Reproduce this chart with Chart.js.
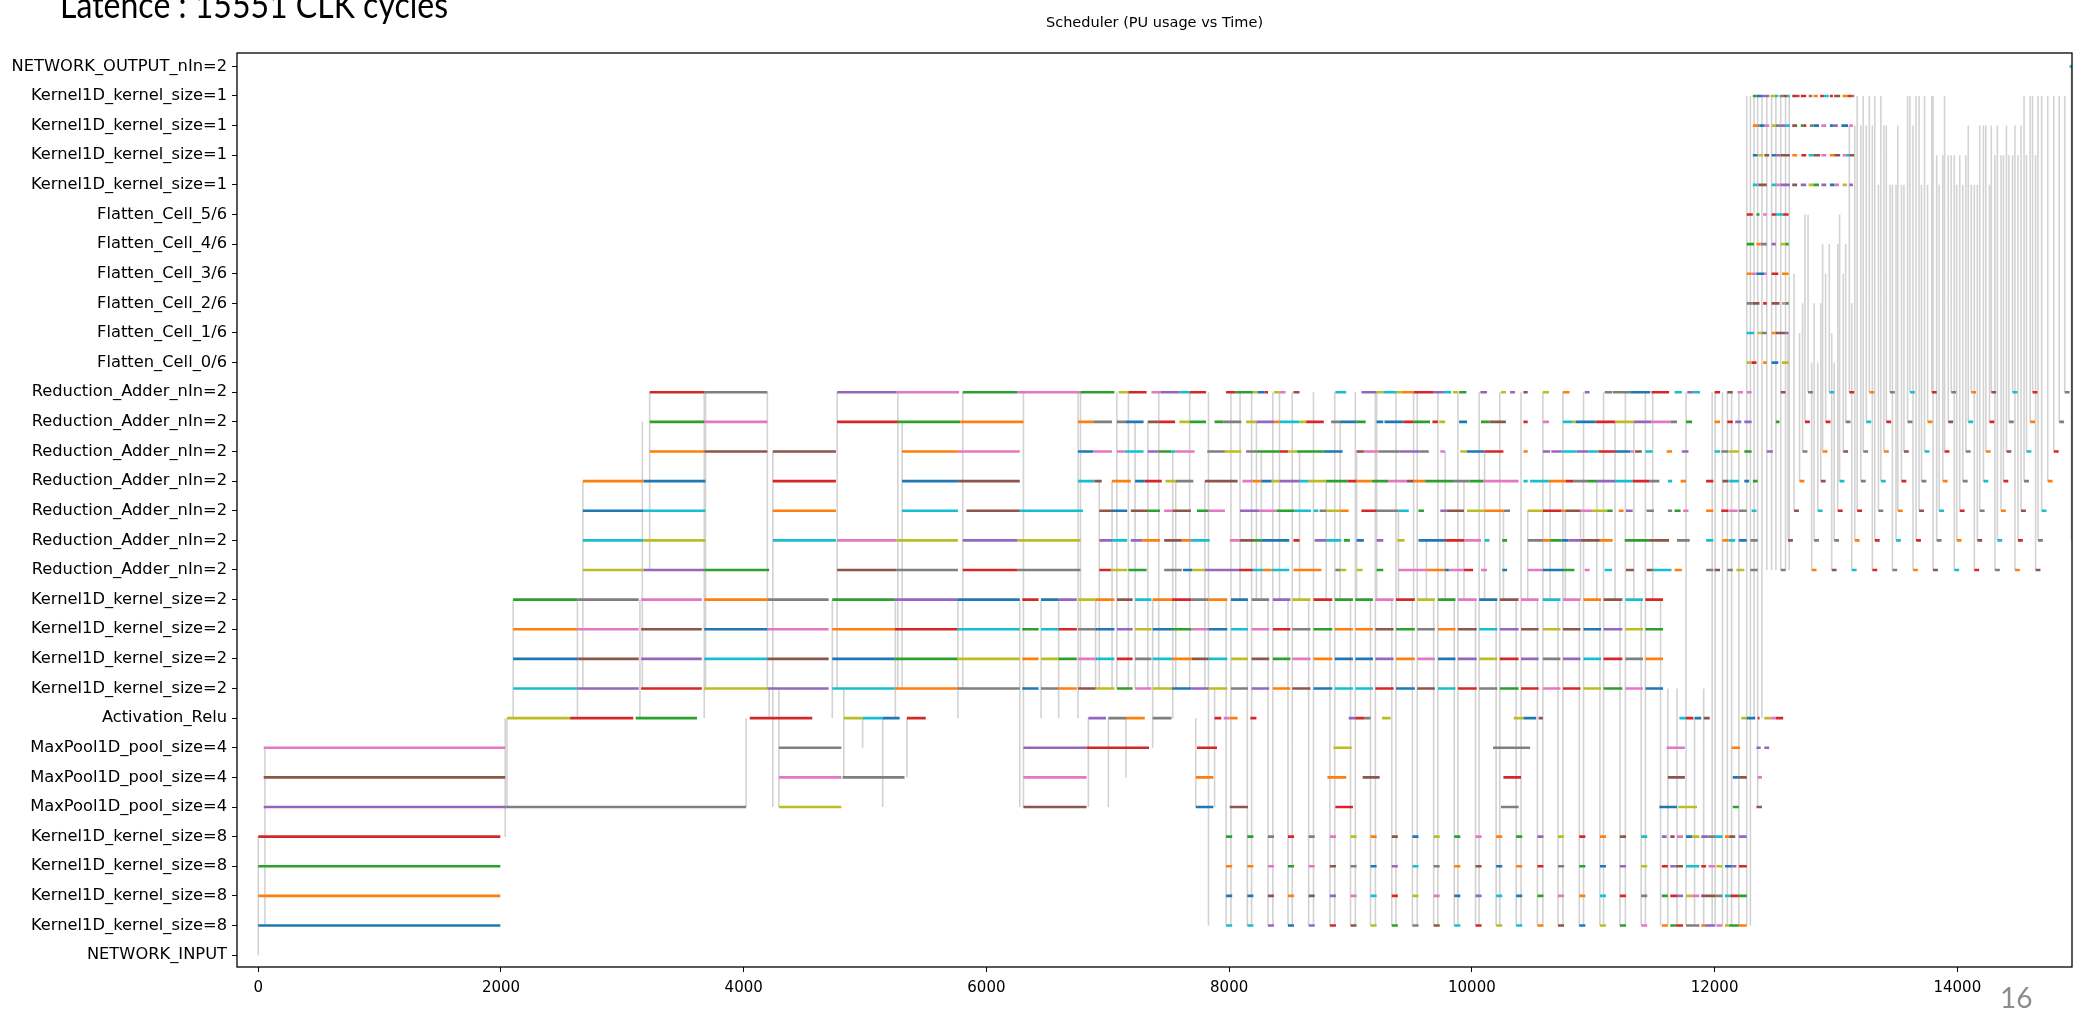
<!DOCTYPE html>
<html>
<head>
<meta charset="utf-8">
<script src="https://cdn.jsdelivr.net/npm/chart.js@4.4.1/dist/chart.umd.min.js"></script>
<style>
  html, body { margin: 0; padding: 0; background: #fff; overflow: hidden; }
  #wrap { position: relative; width: 2098px; height: 1011px; }
  #latence { position: absolute; left: 60px; top: -14px; font-family: Lato, sans-serif; font-size: 36px; line-height: 1; color: #000; white-space: nowrap; transform: scaleX(0.89); transform-origin: 0 0; }
  #page { position: absolute; left: 2000px; top: 983px; font-family: Lato, sans-serif; font-size: 28px; line-height: 1; color: #8c8c8c; }
</style>
</head>
<body>
<div id="wrap">
  <canvas id="sched" width="2098" height="1011"></canvas>
  <div id="latence">Latence : 15551 CLK cycles</div>
  <div id="page">16</div>
</div>
<script>
// rows, bottom (0) to top (30)
const rowLabels = [
  "NETWORK_INPUT",
  "Kernel1D_kernel_size=8", "Kernel1D_kernel_size=8", "Kernel1D_kernel_size=8", "Kernel1D_kernel_size=8",
  "MaxPool1D_pool_size=4", "MaxPool1D_pool_size=4", "MaxPool1D_pool_size=4",
  "Activation_Relu",
  "Kernel1D_kernel_size=2", "Kernel1D_kernel_size=2", "Kernel1D_kernel_size=2", "Kernel1D_kernel_size=2",
  "Reduction_Adder_nIn=2", "Reduction_Adder_nIn=2", "Reduction_Adder_nIn=2", "Reduction_Adder_nIn=2",
  "Reduction_Adder_nIn=2", "Reduction_Adder_nIn=2", "Reduction_Adder_nIn=2",
  "Flatten_Cell_0/6", "Flatten_Cell_1/6", "Flatten_Cell_2/6", "Flatten_Cell_3/6", "Flatten_Cell_4/6", "Flatten_Cell_5/6",
  "Kernel1D_kernel_size=1", "Kernel1D_kernel_size=1", "Kernel1D_kernel_size=1", "Kernel1D_kernel_size=1",
  "NETWORK_OUTPUT_nIn=2"
];

const xTicks = [0, 2000, 4000, 6000, 8000, 10000, 12000, 14000];

// busy intervals [start, end, task]; task = colour cycle slot 0..9
const inputRow = [];

// Kernel1D_kernel_size=8: shared time slots, task per PU
const kernel8Times = [[0,1995],[7975,8025],[8150,8200],[8320,8370],[8485,8535],[8655,8705],[8830,8880],[9000,9050],[9165,9215],[9340,9390],[9510,9560],[9685,9735],[9855,9905],[10030,10080],[10200,10250],[10365,10415],[10540,10590],[10710,10760],[10885,10935],[11055,11105],[11220,11270],[11395,11445]];
const kernel8Tasks = [
  [0,9,9,4,0,4,3,5,8,2,7,5,9,3,8,9,1,5,0,8,2,6],
  [1,0,0,5,1,5,4,6,9,3,8,6,0,4,9,0,2,6,1,9,3,7],
  [2,1,1,6,2,6,5,7,0,4,9,7,1,5,0,1,3,7,2,0,4,8],
  [3,2,2,7,3,7,6,8,1,5,0,8,2,6,1,2,4,8,3,1,5,9]
];
const kernel8Burst = [
  [[11565,11615,1],[11635,11680,2],[11680,11740,3],[11765,11875,7],[11890,11920,1],[11920,12005,4],[12015,12065,6],[12085,12120,8],[12120,12200,2],[12200,12265,1]],
  [[11565,11615,2],[11635,11690,3],[11690,11740,4],[11765,11815,8],[11815,11875,6],[11890,12005,5],[12005,12065,7],[12085,12130,9],[12130,12200,3],[12200,12265,2]],
  [[11565,11615,3],[11635,11680,4],[11680,11740,5],[11765,11875,9],[11890,11930,3],[11950,12005,6],[12015,12065,8],[12085,12140,0],[12140,12180,4],[12200,12265,3]],
  [[11565,11605,4],[11635,11670,5],[11690,11740,6],[11765,11815,0],[11815,11875,8],[11890,11950,4],[11950,12005,7],[12005,12065,9],[12085,12120,1],[12120,12170,5],[12200,12265,4]]
];

const maxPoolRows = [
  [[45,2035,4],[2035,4020,7],[4290,4805,8],[6305,6825,5],[7725,7870,0],[8005,8155,5],[8875,9020,3],[10240,10385,7],[11545,11690,0],[11700,11855,8],[12150,12200,2],[12345,12390,5]],
  [[45,2035,5],[4290,4805,6],[4815,5325,7],[6305,6825,6],[7725,7870,1],[8810,8965,1],[9100,9240,5],[10260,10405,3],[11615,11755,5],[12150,12200,0],[12200,12265,5],[12355,12390,6]],
  [[45,2035,6],[4290,4805,7],[6305,6825,4],[6825,7340,3],[7735,7900,3],[8860,9010,8],[10175,10480,7],[11605,11755,6],[12140,12210,1],[12345,12380,4],[12410,12450,4]]
];

const reluRow = [[2050,2570,8],[2570,3090,3],[3110,3615,2],[4050,4565,3],[4825,4980,8],[4980,5145,9],[5145,5285,0],[5345,5500,3],[6840,6985,4],[7005,7150,7],[7150,7305,1],[7370,7525,7],[7880,7935,3],[7955,8005,6],[8005,8070,1],[8175,8225,3],[8985,9040,4],[9040,9115,3],[9115,9165,7],[9260,9330,8],[10345,10425,8],[10425,10530,0],[10550,10585,5],[11710,11765,9],[11765,11825,3],[11835,11890,0],[11910,11960,5],[12220,12265,8],[12265,12335,0],[12355,12370,3],[12410,12460,8],[12460,12505,6],[12505,12565,3]];

// Kernel1D_kernel_size=2: shared time slots, task per PU
const kernel2Times = [[2100,2630],[2630,3135],[3155,3655],[3675,4195],[4195,4700],[4730,5245],[5245,5760],[5760,6275],[6295,6430],[6450,6595],[6595,6745],[6755,6900],[6900,7055],[7075,7205],[7225,7360],[7370,7530],[7530,7690],[7690,7830],[7830,7985],[8015,8155],[8185,8330],[8360,8505],[8520,8670],[8695,8850],[8870,9020],[9040,9185],[9205,9355],[9375,9530],[9550,9695],[9720,9865],[9885,10040],[10060,10210],[10230,10385],[10405,10550],[10585,10730],[10750,10895],[10920,11065],[11085,11240],[11265,11410],[11430,11575]];
const kernel2Tasks = [
  [9,4,3,8,4,9,1,7,0,7,1,5,8,2,6,8,0,4,8,7,4,1,5,0,9,9,3,0,5,9,3,7,2,3,6,3,8,2,6,0],
  [0,5,4,9,5,0,2,8,1,8,2,6,9,3,7,9,1,5,9,8,5,2,6,1,0,0,4,1,6,0,4,8,3,4,7,4,9,3,7,1],
  [1,6,5,0,6,1,3,9,2,9,3,7,0,4,8,0,2,6,0,9,6,3,7,2,1,1,5,2,7,1,5,9,4,5,8,5,0,4,8,2],
  [2,7,6,1,7,2,4,0,3,0,4,8,1,5,9,1,3,7,1,0,7,4,8,3,2,2,6,3,8,2,6,0,5,6,9,6,1,5,9,3]
];

const reductionRows = [
  [[2675,3175,8],[3175,3675,4],[3675,4210,2],[4770,5260,5],[5260,5765,7],[5805,6255,3],[6255,6775,7],[6930,7025,3],[7025,7160,8],[7170,7320,2],[7465,7610,7],[7620,7695,0],[7695,7800,8],[7800,8080,4],[8080,8195,3],[8195,8280,9],[8280,8350,1],[8350,8495,9],[8530,8760,1],[8875,8915,7],[8915,8965,8],[9050,9100,8],[9215,9270,2],[9395,9625,6],[9625,9780,1],[9780,9810,0],[9810,9935,6],[9935,10010,3],[10075,10125,6],[10250,10290,0],[10460,10585,6],[10585,10760,0],[10760,10845,2],[10930,10970,6],[11095,11155,9],[11270,11335,5],[11440,11490,5],[11490,11645,9],[11670,11730,1],[11930,11990,7],[12000,12045,5],[12105,12150,7],[12180,12245,8],[12295,12355,7],[12545,12585,7],
   [12800,12840,1],[12965,13005,5],[13130,13170,9],[13300,13340,3],[13465,13505,7],[13635,13675,1],[13800,13840,5],[13975,14015,9],[14140,14180,3],[14310,14350,7],[14475,14515,1],[14645,14685,5]],
  [[2675,3175,9],[3175,3685,8],[4240,4760,9],[4770,5260,6],[5260,5765,8],[5805,6255,4],[6255,6775,8],[6930,7035,4],[7035,7160,9],[7190,7285,4],[7285,7430,1],[7465,7610,5],[7610,7685,1],[7685,7840,9],[8005,8090,6],[8090,8205,5],[8205,8265,2],[8265,8495,0],[8530,8580,3],[8705,8800,4],[8800,8925,9],[8945,8995,2],[9050,9110,0],[9215,9270,4],[9385,9445,8],[9560,9780,0],[9780,9935,3],[9935,10075,6],[10105,10145,9],[10250,10290,2],[10460,10585,7],[10585,10645,1],[10645,10740,2],[10740,10795,0],[10795,10895,4],[10895,11055,5],[11055,11160,1],[11260,11460,2],[11460,11625,5],[11690,11795,7],[11930,11990,9],[12065,12115,1],[12115,12170,9],[12200,12265,0],[12295,12355,7],
   [12605,12645,5],[12820,12860,7],[12985,13025,7],[13155,13195,1],[13320,13360,3],[13495,13535,9],[13660,13700,3],[13830,13870,7],[13995,14035,1],[14165,14205,5],[14330,14370,9],[14500,14540,3],[14665,14705,7]],
  [[2675,3175,0],[3175,3685,9],[4240,4760,1],[5305,5765,9],[5835,6275,5],[6275,6795,9],[6930,7035,5],[7035,7160,0],[7190,7330,5],[7330,7430,2],[7465,7535,6],[7535,7685,5],[7735,7830,2],[7830,7965,6],[8090,8245,4],[8245,8390,6],[8390,8540,2],[8540,8675,9],[8695,8735,9],[8745,8800,7],[8800,8915,8],[8915,8985,1],[9090,9215,3],[9215,9395,7],[9395,9480,9],[9560,9605,2],[9740,9790,4],[9790,9935,5],[9960,10105,8],[10105,10260,1],[10260,10315,7],[10460,10585,8],[10585,10740,3],[10740,10770,1],[10770,10895,5],[10895,10990,6],[10990,11115,8],[11115,11160,2],[11210,11250,1],[11270,11325,4],[11440,11500,7],[11615,11650,7],[11670,11720,2],[11740,11785,6],[11930,11990,1],[12055,12115,3],[12120,12190,6],[12200,12265,7],[12305,12345,9],
   [12655,12695,5],[12850,12890,9],[13015,13055,3],[13175,13215,3],[13350,13390,7],[13510,13550,1],[13685,13725,5],[13850,13890,9],[14020,14060,3],[14185,14225,7],[14360,14400,1],[14525,14565,5],[14695,14735,9]],
  [[2675,3175,1],[3175,3685,0],[4240,4760,3],[5305,5765,0],[5765,6275,5],[6755,6890,9],[6890,6950,5],[7035,7190,1],[7225,7305,0],[7305,7445,3],[7475,7560,8],[7560,7705,7],[7800,8070,5],[8110,8195,6],[8195,8265,1],[8265,8350,0],[8350,8415,8],[8415,8580,4],[8580,8655,9],[8655,8800,8],[8800,8975,2],[8975,9050,3],[9050,9175,1],[9175,9310,2],[9310,9465,6],[9465,9520,5],[9520,9615,1],[9615,9845,2],[9845,9980,7],[9980,10095,2],[10095,10385,6],[10425,10460,9],[10480,10635,9],[10635,10770,1],[10770,10835,3],[10835,10950,7],[10950,11030,2],[11030,11180,4],[11180,11325,9],[11325,11460,3],[11460,11545,7],[11615,11650,9],[11720,11765,1],[11930,11990,3],[12065,12115,5],[12120,12200,9],[12245,12285,0],[12315,12355,2],
   [12700,12740,1],[12875,12915,5],[13030,13070,9],[13205,13245,7],[13370,13410,9],[13540,13580,3],[13705,13745,7],[13880,13920,1],[14045,14085,7],[14215,14255,9],[14380,14420,3],[14550,14590,7],[14745,14785,1]],
  [[3225,3675,1],[3675,4195,5],[4240,4760,5],[5305,5765,1],[5765,6275,6],[6755,6880,0],[6880,7035,6],[7075,7140,6],[7140,7295,9],[7330,7420,4],[7420,7525,2],[7525,7560,9],[7560,7715,6],[7820,7965,7],[7965,8100,8],[8140,8225,7],[8225,8415,2],[8415,8485,3],[8485,8560,8],[8560,8780,2],[8780,8935,0],[9050,9110,5],[9110,9235,6],[9235,9405,7],[9405,9570,4],[9570,9645,7],[9740,9780,6],[9905,9960,8],[9960,10105,0],[10105,10260,3],[10425,10460,1],[10585,10645,4],[10655,10740,4],[10740,10865,9],[10865,10960,4],[10960,11045,9],[11045,11180,3],[11180,11305,0],[11305,11335,6],[11345,11400,5],[11430,11490,9],[11605,11650,1],[11730,11785,4],[12000,12045,9],[12055,12115,7],[12120,12200,8],[12245,12305,2],[12430,12480,4],
   [12725,12765,7],[12890,12930,1],[13060,13100,5],[13225,13265,7],[13395,13435,1],[13560,13600,5],[13730,13770,9],[13895,13935,3],[14070,14110,7],[14235,14275,1],[14405,14445,5],[14570,14610,9],[14795,14835,3]],
  [[3225,3675,2],[3675,4195,6],[4770,5270,3],[5270,5785,2],[5785,6305,1],[6755,6880,1],[6880,7035,7],[7075,7150,7],[7150,7295,0],[7330,7420,5],[7420,7555,3],[7590,7675,8],[7675,7810,2],[7880,7955,2],[7955,8100,7],[8140,8225,8],[8225,8370,4],[8370,8415,1],[8415,8580,9],[8580,8635,8],[8635,8780,3],[8840,8915,7],[8915,9050,0],[9050,9125,2],[9215,9270,0],[9280,9435,0],[9435,9520,3],[9520,9655,2],[9675,9720,3],[9730,9780,8],[9895,9960,0],[10075,10145,2],[10145,10280,5],[10425,10460,3],[10585,10635,6],[10750,10825,9],[10825,10855,8],[10855,11020,0],[11020,11180,3],[11180,11335,8],[11335,11480,4],[11480,11635,6],[11635,11690,7],[11765,11815,2],[12000,12045,1],[12105,12150,3],[12170,12220,4],[12245,12305,4],[12505,12535,2],
   [12745,12785,3],[12915,12955,3],[13080,13120,7],[13250,13290,9],[13415,13455,3],[13590,13630,7],[13755,13795,1],[13925,13965,5],[14090,14130,9],[14265,14305,3],[14425,14465,7],[14600,14640,1],[14840,14880,7]],
  [[3225,3675,3],[3675,4195,7],[4770,5260,4],[5260,5775,6],[5805,6255,2],[6255,6775,6],[6775,7055,2],[7090,7170,8],[7170,7320,3],[7360,7435,6],[7435,7590,4],[7590,7675,9],[7675,7810,3],[7975,8050,3],[8050,8195,2],[8195,8235,8],[8235,8290,0],[8290,8320,3],[8370,8415,8],[8415,8465,6],[8530,8580,5],[8875,8965,9],[9090,9215,4],[9215,9270,8],[9270,9375,9],[9375,9425,8],[9425,9520,1],[9520,9685,3],[9685,9770,4],[9770,9830,9],[9845,9885,8],[9895,9955,2],[10070,10125,4],[10240,10280,8],[10315,10355,4],[10425,10460,5],[10585,10635,8],[10750,10805,1],[10930,10970,4],[11095,11155,7],[11160,11305,7],[11305,11470,0],[11480,11625,3],[11670,11730,9],[11775,11825,4],[11825,11880,9],[12000,12045,3],[12105,12150,5],[12190,12235,6],[12265,12305,6],[12545,12585,5],
   [12770,12810,7],[12945,12985,9],[13110,13150,3],[13275,13315,1],[13445,13485,7],[13610,13650,9],[13790,13830,3],[13950,13990,7],[14115,14155,1],[14280,14320,5],[14455,14495,9],[14620,14660,3],[14885,14925,7]]
];

const flattenRows = [
  [[12265,12305,8],[12305,12345,3],[12400,12430,1],[12470,12525,0],[12555,12610,8]],
  [[12265,12325,9],[12355,12390,8],[12390,12430,7],[12470,12505,1],[12505,12585,5],[12585,12610,4]],
  [[12265,12315,7],[12315,12370,5],[12400,12430,3],[12470,12535,5],[12555,12585,6],[12585,12610,2]],
  [[12265,12305,1],[12305,12345,6],[12345,12410,0],[12410,12430,6],[12470,12525,3],[12555,12610,1]],
  [[12265,12325,2],[12345,12380,1],[12380,12430,7],[12470,12505,4],[12545,12585,8],[12585,12610,2]],
  [[12265,12315,3],[12345,12370,2],[12400,12430,6],[12470,12505,3],[12505,12565,9],[12565,12610,3]]
];

const kernel1Rows = [
  [[12315,12355,9],[12360,12430,5],[12470,12505,9],[12505,12545,6],[12545,12620,4],[12640,12680,5],[12710,12755,4],[12775,12815,8],[12815,12860,2],[12880,12920,4],[12950,12985,0],[12985,13025,6],[13055,13090,8],[13110,13140,4]],
  [[12315,12355,0],[12360,12400,8],[12410,12450,5],[12470,12505,0],[12505,12545,4],[12545,12620,5],[12640,12680,1],[12715,12755,3],[12775,12815,9],[12815,12870,5],[12880,12920,6],[12950,12985,1],[12985,13035,5],[13055,13080,6],[13080,13110,9],[13110,13150,5]],
  [[12315,12355,1],[12355,12370,7],[12370,12410,0],[12410,12450,6],[12470,12505,8],[12505,12545,7],[12545,12585,4],[12585,12620,9],[12640,12680,5],[12710,12735,2],[12735,12755,3],[12785,12815,7],[12815,12860,0],[12880,12920,6],[12950,12975,0],[12975,13015,4],[13045,13100,0],[13110,13140,6]],
  [[12315,12345,2],[12345,12390,0],[12390,12450,4],[12460,12495,8],[12495,12525,9],[12535,12565,7],[12565,12600,5],[12600,12620,9],[12640,12680,3],[12680,12700,5],[12710,12755,3],[12775,12805,7],[12815,12850,1],[12870,12900,3],[12900,12940,9],[12950,12975,3],[12985,13035,5],[13055,13100,1],[13100,13130,3],[13130,13150,7]]
];

const outputRow = [[14925,14955,9]];

// dependency lines: [time, from row, to row]
const links = [
  [0,0,4],[55,1,7],[2035,4,8],[2050,5,8],[2100,8,12],[2630,8,12],[2675,9,16],[3145,8,12],[3165,9,18],[3225,13,19],
  [3675,8,19],[3685,9,19],[4020,5,8],[4195,9,19],[4210,8,9],[4240,5,17],[4290,5,9],[4730,8,12],[4770,9,19],[4825,6,9],
  [4980,7,8],[5145,5,8],[5250,8,12],[5270,9,19],[5305,9,18],[5345,6,8],[5765,8,12],[5805,9,19],[6275,5,12],[6305,5,19],
  [6450,8,12],[6595,8,12],[6755,8,19],[6775,9,19],[6840,5,8],[6900,9,12],[6930,9,16],[7005,5,8],[7035,9,16],[7075,9,19],
  [7150,6,8],[7170,9,19],[7225,9,18],[7330,9,18],[7370,7,12],[7420,9,19],[7535,8,17],[7560,9,16],[7675,9,19],[7725,5,8],
  [7800,9,16],[7880,5,9],
  [7830,1,19],[8015,1,19],[8185,1,19],[8360,1,19],[8520,1,19],[8695,1,19],[8870,1,19],[9040,1,19],[9205,1,19],[9375,1,19],
  [9550,1,19],[9720,1,19],[9885,1,19],[10060,1,19],[10230,1,19],[10405,1,19],[10585,1,19],[10750,1,19],[10920,1,19],[11085,1,19],
  [11265,1,19],[11430,1,19],
  [7975,1,12],[8150,1,12],[8320,1,12],[8485,1,12],[8655,1,12],[8830,1,12],[9000,1,12],[9165,1,12],[9340,1,12],[9510,1,12],
  [9685,1,12],[9855,1,12],[10030,1,12],[10200,1,12],[10365,1,12],[10540,1,12],[10710,1,12],[10885,1,12],[11055,1,12],[11220,1,12],
  [11395,1,12],
  [8090,12,19],[8225,12,18],[8265,12,17],[8415,12,19],[8580,12,17],[8800,12,16],[8915,12,18],[9050,12,17],[9215,12,19],[9395,12,15],
  [9520,12,19],[9625,12,14],[9780,12,17],[9935,12,16],[10105,12,17],[10260,12,15],[10460,12,15],[10645,12,16],[10770,12,15],[10895,12,15],
  [11030,12,16],[11180,12,18],[11335,12,18],[11490,12,19],
  [11555,1,12],[11615,1,9],[11690,1,9],[11765,1,19],[11835,1,8],[11910,1,9],[11980,1,19],[12005,1,19],[12065,1,19],[12105,1,19],
  [12140,1,19],[12200,1,19],[12265,1,29],[12295,1,29],[12325,8,29],[12355,5,29],[12390,8,29],[12430,13,29],[12470,13,29],[12505,13,29],
  [12545,13,29],[12585,13,29],[12615,13,29],
  [12770,19,25],[12945,19,24],[13110,19,28],[13275,19,29],[13445,19,26],[13610,19,29],[13790,19,29],[13950,19,27],[14115,19,26],[14280,19,28],[14455,19,27],[14620,19,29],[14885,19,29],
  [12745,18,25],[12915,18,23],[13080,18,24],[13250,18,28],[13415,18,28],[13590,18,29],[13755,18,26],[13925,18,27],[14090,18,28],[14265,18,26],[14425,18,27],[14600,18,29],[14840,18,29],
  [12725,17,22],[12890,17,24],[13060,17,23],[13225,17,29],[13395,17,28],[13560,17,26],[13730,17,29],[13895,17,29],[14070,17,27],[14235,17,28],[14405,17,28],[14570,17,27],[14795,17,29],
  [12700,16,21],[12875,16,22],[13030,16,25],[13205,16,28],[13370,16,29],[13540,16,26],[13705,16,26],[13880,16,27],[14045,16,26],[14215,16,28],[14380,16,27],[14550,16,29],[14745,16,29],
  [12655,15,23],[12850,15,20],[13015,15,24],[13175,15,29],[13350,15,26],[13510,15,28],[13685,15,29],[13850,15,26],[14020,15,27],[14185,15,28],[14360,15,27],[14525,15,28],[14695,15,29],
  [12605,14,21],[12820,14,22],[12985,14,20],[13155,14,28],[13320,14,29],[13495,14,26],[13660,14,29],[13830,14,27],[13995,14,26],[14165,14,26],[14330,14,28],[14500,14,27],[14665,14,29],
  [12800,13,20],[12965,13,21],[13130,13,22],[13300,13,28],[13465,13,26],[13635,13,28],[13800,13,29],[13975,13,27],[14140,13,26],[14310,13,27],[14475,13,28],[14645,13,27],
  [14940,14,30]
];

const tab10 = ["#1f77b4", "#ff7f0e", "#2ca02c", "#d62728", "#9467bd",
               "#8c564b", "#e377c2", "#7f7f7f", "#bcbd22", "#17becf"];

const kernel8Rows = kernel8Tasks.map((tasks, i) =>
    tasks.map((t, j) => [kernel8Times[j][0], kernel8Times[j][1], t]).concat(kernel8Burst[i]));
const kernel2Rows = kernel2Tasks.map(tasks =>
    tasks.map((t, j) => [kernel2Times[j][0], kernel2Times[j][1], t]));

const allRows = [inputRow, ...kernel8Rows, ...maxPoolRows, reluRow, ...kernel2Rows,
                 ...reductionRows, ...flattenRows, ...kernel1Rows, outputRow];

const taskSets = tab10.map((colour, i) => ({
    label: "slot " + i,
    data: [],
    borderColor: colour,
    backgroundColor: colour,
    borderWidth: 2.6,
    pointRadius: 0,
    spanGaps: false,
    fill: false,
    order: 0
}));

allRows.forEach((row, r) => {
    row.forEach(([start, end, task]) => {
        taskSets[task].data.push({ x: start, y: r }, { x: end, y: r }, { x: end, y: null });
    });
});

const linkSet = {
    label: "links",
    data: links.flatMap(([t, a, b]) => [{ x: t, y: a }, { x: t, y: b }, { x: t, y: null }]),
    borderColor: "rgba(140,140,140,0.38)",
    borderWidth: 1.6,
    pointRadius: 0,
    spanGaps: false,
    fill: false,
    order: 1
};

const framePlugin = {
    id: "frame",
    afterDatasetsDraw(chart) {
        const a = chart.chartArea;
        const ctx = chart.ctx;
        ctx.save();
        ctx.strokeStyle = "#000";
        ctx.lineWidth = 1.3;
        ctx.strokeRect(a.left, a.top, a.right - a.left, a.bottom - a.top);
        ctx.restore();
    }
};

new Chart(document.getElementById("sched"), {
    type: "line",
    data: { datasets: [linkSet, ...taskSets] },
    plugins: [framePlugin],
    options: {
        responsive: false,
        animation: false,
        events: [],
        layout: { padding: { left: 0, right: 26, top: 0, bottom: 0 } },
        plugins: {
            legend: { display: false },
            tooltip: { enabled: false },
            title: {
                display: true,
                fullSize: false,
                text: "Scheduler (PU usage vs Time)",
                color: "#000",
                font: { family: "DejaVu Sans", size: 14.5, weight: "normal" },
                padding: { top: 15, bottom: 20.6 }
            }
        },
        scales: {
            x: {
                type: "linear",
                min: -175,
                max: 14945,
                afterBuildTicks: axis => { axis.ticks = xTicks.map(v => ({ value: v })); },
                afterFit: axis => { axis.height = 44; },
                ticks: {
                    callback: v => String(v),
                    color: "#000",
                    font: { family: "DejaVu Sans", size: 15 },
                    padding: 7,
                    maxRotation: 0,
                    autoSkip: false
                },
                grid: { drawOnChartArea: false, drawTicks: true, tickLength: 5, color: "#000" },
                border: { display: false }
            },
            y: {
                type: "linear",
                min: -0.4,
                max: 30.45,
                afterBuildTicks: axis => { axis.ticks = rowLabels.map((_, i) => ({ value: i })); },
                afterFit: axis => { axis.width = 237; },
                ticks: {
                    callback: v => rowLabels[v],
                    color: "#000",
                    font: { family: "DejaVu Sans", size: 16.3 },
                    padding: 5,
                    autoSkip: false
                },
                grid: { drawOnChartArea: false, drawTicks: true, tickLength: 5, color: "#000" },
                border: { display: false }
            }
        }
    }
});
</script>
</body>
</html>
